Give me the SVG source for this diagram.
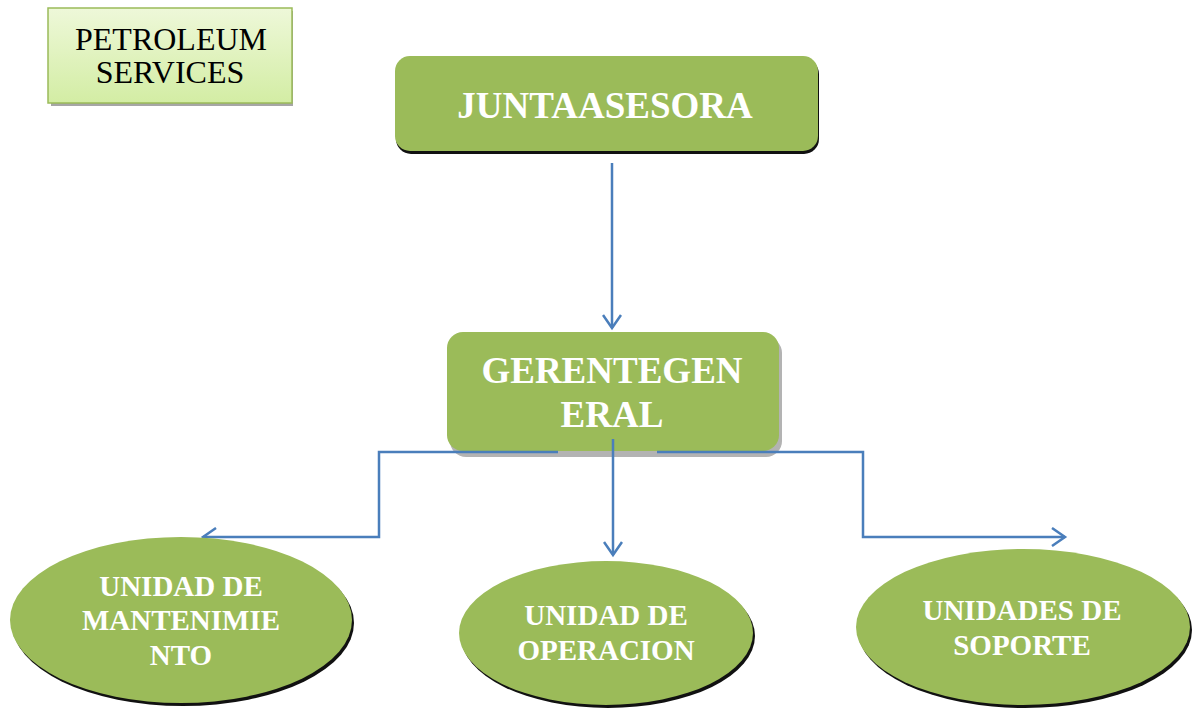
<svg xmlns="http://www.w3.org/2000/svg" width="1194" height="708" viewBox="0 0 1194 708">
<defs>
<linearGradient id="lg" x1="0" y1="0" x2="0" y2="1">
<stop offset="0" stop-color="#eef8d9"/>
<stop offset="1" stop-color="#d3eda4"/>
</linearGradient>
<marker id="ah" markerWidth="20" markerHeight="20" viewBox="-16 -10 20 20" refX="0" refY="0" orient="auto" markerUnits="userSpaceOnUse">
<path d="M-13,-9 L0,0 L-13,9" fill="none" stroke="#4a7ebb" stroke-width="2.5"/>
</marker>
</defs>
<style>
.w{fill:#fff;font-family:"Liberation Serif",serif;font-weight:bold;text-anchor:middle}
.g{fill:#9bbb59}
.c{fill:none;stroke:#4a7ebb;stroke-width:2.5}
</style>
<rect width="1194" height="708" fill="#fff"/>
<g id="petroleum">
<rect x="51" y="11" width="242" height="95" fill="#a6a6a6"/>
<rect x="48" y="8" width="244" height="95" fill="url(#lg)" stroke="#9bbb59" stroke-width="1.5"/>
<text x="171" y="50" font-family="Liberation Serif,serif" font-size="32" text-anchor="middle" fill="#000">PETROLEUM</text>
<text x="170" y="83" font-family="Liberation Serif,serif" font-size="32" text-anchor="middle" fill="#000">SERVICES</text>
</g>
<g id="junta">
<rect x="396" y="59" width="423" height="95" rx="15" fill="#111"/>
<rect x="395" y="56" width="423" height="95" rx="15" class="g"/>
<text x="605" y="118" class="w" font-size="37">JUNTAASESORA</text>
</g>
<g id="gerente">
<rect x="450" y="337" width="332" height="120" rx="16" fill="#b3b3b3"/>
<rect x="447" y="332" width="332" height="119" rx="16" class="g"/>
<text x="612" y="383" class="w" font-size="37">GERENTEGEN</text>
<text x="612" y="427" class="w" font-size="37">ERAL</text>
</g>
<g id="connectors">
<path class="c" d="M612,163 V328" marker-end="url(#ah)"/>
<path class="c" d="M613,439 V555" marker-end="url(#ah)"/>
<path class="c" d="M558,452 H379 V537 H203" marker-end="url(#ah)"/>
<path class="c" d="M657,452 H863 V537 H1065" marker-end="url(#ah)"/>
</g>
<g id="mantenimiento">
<ellipse cx="183" cy="623" rx="171" ry="83" fill="#111"/>
<ellipse cx="181" cy="620" rx="171" ry="83" class="g"/>
<text x="181" y="596" class="w" font-size="29">UNIDAD DE</text>
<text x="181" y="630" class="w" font-size="29">MANTENIMIE</text>
<text x="181" y="665" class="w" font-size="29">NTO</text>
</g>
<g id="operacion">
<ellipse cx="608" cy="636" rx="147" ry="72" fill="#111"/>
<ellipse cx="606" cy="633" rx="147" ry="72" class="g"/>
<text x="606" y="625" class="w" font-size="29">UNIDAD DE</text>
<text x="606" y="660" class="w" font-size="29">OPERACION</text>
</g>
<g id="soporte">
<ellipse cx="1025" cy="630" rx="167" ry="78" fill="#111"/>
<ellipse cx="1023" cy="627" rx="167" ry="78" class="g"/>
<text x="1022" y="620" class="w" font-size="29">UNIDADES DE</text>
<text x="1022" y="655" class="w" font-size="29">SOPORTE</text>
</g>
</svg>
